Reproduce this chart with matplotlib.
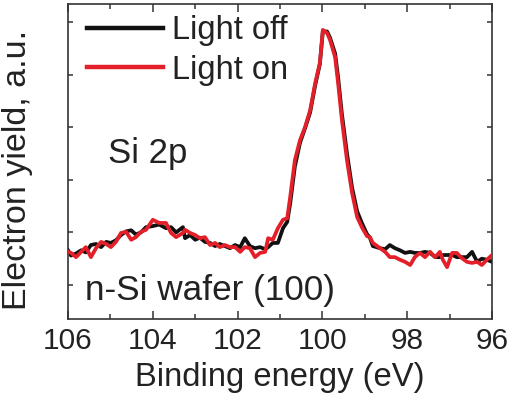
import matplotlib
matplotlib.use("Agg")
import matplotlib.pyplot as plt
from matplotlib.ticker import MultipleLocator

# ---- data ----
energy = [106.00, 105.93, 105.81, 105.69, 105.58, 105.46, 105.34, 105.22, 105.10, 104.99,
          104.87, 104.75, 104.63, 104.51, 104.40, 104.28, 104.16, 104.00, 103.85, 103.69,
          103.57, 103.45, 103.29, 103.24, 103.12, 103.00, 102.89, 102.77, 102.65, 102.53,
          102.42, 102.30, 102.18, 102.06, 101.94, 101.83, 101.71, 101.59, 101.47, 101.35,
          101.28, 101.17, 101.05, 100.93, 100.83, 100.76, 100.65, 100.53, 100.41, 100.29,
          100.17, 100.06, 99.99, 99.89, 99.82, 99.70, 99.63, 99.54, 99.42, 99.30,
          99.18, 99.07, 98.95, 98.88, 98.81, 98.64, 98.52, 98.41, 98.29, 98.17,
          98.05, 97.93, 97.82, 97.70, 97.58, 97.46, 97.34, 97.23, 97.16, 97.06,
          96.94, 96.83, 96.71, 96.59, 96.47, 96.35, 96.24, 96.12, 96.00]

light_on = [1.63, 1.61, 1.53, 1.63, 1.72, 1.53, 1.70, 1.82, 1.78, 1.72,
            1.82, 1.99, 2.01, 1.86, 1.91, 2.01, 2.05, 2.24, 2.18, 2.18,
            1.99, 1.91, 1.99, 2.05, 1.99, 1.95, 1.89, 1.91, 1.76, 1.80,
            1.72, 1.76, 1.72, 1.72, 1.63, 1.72, 1.70, 1.53, 1.61, 1.63,
            1.89, 1.86, 2.08, 2.24, 2.27, 2.67, 3.37, 3.75, 4.00, 4.32,
            4.84, 5.22, 5.85, 5.79, 5.66, 5.33, 4.84, 4.14, 3.37, 2.75,
            2.29, 2.10, 1.93, 1.91, 1.80, 1.70, 1.63, 1.53, 1.53, 1.48,
            1.44, 1.38, 1.53, 1.61, 1.53, 1.63, 1.53, 1.63, 1.48, 1.34,
            1.61, 1.61, 1.51, 1.44, 1.42, 1.44, 1.38, 1.48, 1.57]

light_off = [1.66, 1.56, 1.60, 1.66, 1.62, 1.76, 1.78, 1.72, 1.82, 1.80,
             1.85, 1.95, 2.02, 2.04, 1.96, 2.00, 2.10, 2.12, 2.15, 2.08,
             2.10, 2.00, 2.10, 1.89, 1.95, 1.86, 1.90, 1.82, 1.80, 1.74,
             1.78, 1.74, 1.70, 1.76, 1.72, 1.89, 1.74, 1.70, 1.72, 1.68,
             1.72, 1.80, 1.80, 2.08, 2.20, 2.55, 3.25, 3.70, 3.98, 4.28,
             4.80, 5.20, 5.82, 5.82, 5.70, 5.40, 4.95, 4.25, 3.50, 2.85,
             2.40, 2.18, 1.97, 1.90, 1.74, 1.70, 1.68, 1.76, 1.70, 1.66,
             1.61, 1.63, 1.61, 1.61, 1.63, 1.61, 1.53, 1.53, 1.57, 1.57,
             1.57, 1.53, 1.53, 1.53, 1.63, 1.44, 1.50, 1.48, 1.44]

series_labels = ["Light off", "Light on"]
xticks = [106, 104, 102, 100, 98, 96]
yticks = [1, 2, 3, 4, 5, 6]

# ---- figure ----
plt.rcParams['font.family'] = ['Liberation Sans', 'DejaVu Sans']
txt = '#222222'
fig = plt.figure(figsize=(5.08, 3.97), dpi=100)
ax = fig.add_axes([0.1339, 0.1965, 0.8346, 0.7934])

ax.plot(energy, light_off, color='#111111', lw=2.7, label=series_labels[0], zorder=2)
ax.plot(energy, light_on, color='#e3202a', lw=2.7, label=series_labels[1], zorder=3)

ax.set_xlim(106, 96)
ax.set_ylim(0.354, 6.342)
ax.set_xticks(xticks)
ax.xaxis.set_minor_locator(MultipleLocator(1))
ax.set_yticks(yticks)
ax.set_yticklabels([])
ax.tick_params(axis='both', which='both', direction='in', top=True, right=True,
               colors='#333333', labelcolor=txt)
ax.tick_params(axis='x', which='major', length=6, width=1.1, labelsize=21.5, pad=6)
ax.tick_params(axis='x', which='minor', length=3.5, width=1.1)
ax.tick_params(axis='y', which='major', length=3.5, width=1.1)
for s in ax.spines.values():
    s.set_color('#333333')
    s.set_linewidth(1.2)

ax.set_xlabel('Binding energy (eV)', fontsize=23.6, color=txt, labelpad=5)
ax.set_ylabel('Electron yield, a.u.', fontsize=24.5, color=txt)
ax.yaxis.set_label_coords(-0.083, 0.473)

leg = ax.legend(loc='upper left', bbox_to_anchor=(0.045, 0.965), frameon=False,
                fontsize=23.5, handlelength=2.33, handletextpad=0.28, labelspacing=0.27,
                borderpad=0, borderaxespad=0)
for t in leg.get_texts():
    t.set_color(txt)
for h in leg.get_lines():
    h.set_linewidth(3.2)

ax.text(0.094, 0.495, 'Si 2p', transform=ax.transAxes, fontsize=25, color=txt,
        ha='left', va='baseline')
ax.text(0.04, 0.06, 'n-Si wafer (100)', transform=ax.transAxes, fontsize=25.3, color=txt,
        ha='left', va='baseline')

fig.savefig('out.png', dpi=100)
